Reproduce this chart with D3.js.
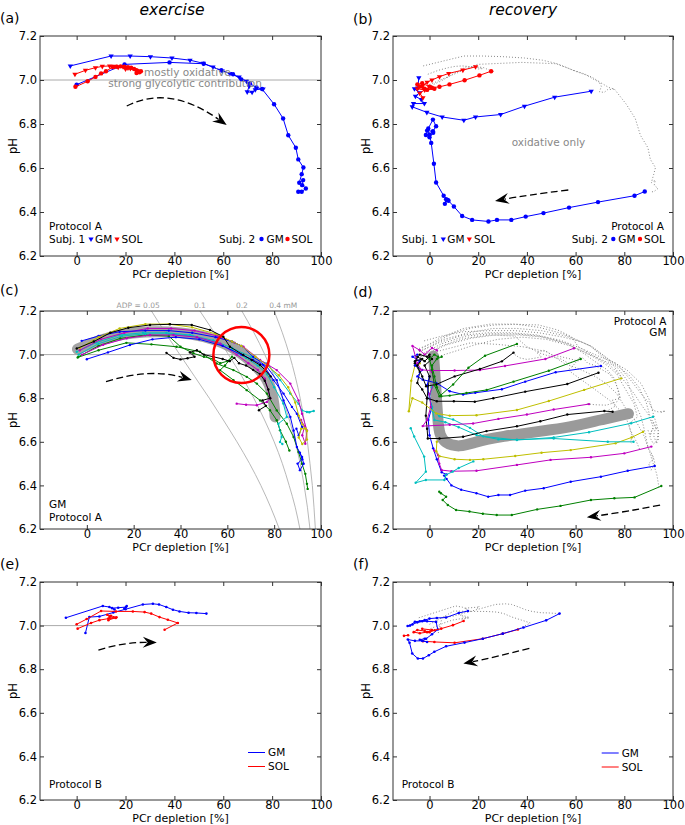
<!DOCTYPE html>
<html><head><meta charset="utf-8">
<script src="https://cdn.jsdelivr.net/npm/d3@7"></script>
<style>body{margin:0;background:#fff}text{font-family:"DejaVu Sans",sans-serif}</style>
</head><body><svg id="chart" width="685" height="825"></svg>
<script>
// ---------------- DATA ----------------
const xTicks = [0, 20, 40, 60, 80, 100];
const yTicks = [6.2, 6.4, 6.6, 6.8, 7.0, 7.2];
const yDomain = [6.2, 7.2];
const refPH = 7.0;

// (a) exercise, protocol A
const aGM1 = [[-2.6,7.064],[14.1,7.109],[21.9,7.109],[30.2,7.106],[39.0,7.100],[46.4,7.090],[51.8,7.076],[55.8,7.059],[59.6,7.041],[62.7,7.029],[66.5,7.014],[69.5,6.994],[70.6,6.972],[69.8,6.946],[71.8,6.944],[73.1,6.956],[76.3,6.959]];
const aSOL1 = [[-0.7,7.026],[3.6,7.044],[7.7,7.056],[10.5,7.062],[13.5,7.064],[15.5,7.062],[17,7.058],[19,7.06],[21,7.055],[20,7.05],[22,7.052]];
const aGM2 = [[0,6.979],[19.6,7.071],[38.0,7.080],[52.0,7.074],[59.2,7.044],[64,7.026],[67.4,7.003],[70.9,6.984],[73.6,6.966],[75.9,6.959],[80.8,6.890],[84.5,6.825],[86.6,6.749],[89.7,6.692],[90.7,6.639],[92.8,6.602],[92.1,6.572],[91.1,6.533],[92.7,6.545],[92.3,6.522],[93.8,6.507],[92.1,6.492],[90.7,6.492]];
const aSOL2 = [[-0.5,6.969],[4.5,6.994],[7.7,7.014],[10,7.03],[12,7.04],[14.8,7.059],[16.5,7.06],[18,7.062],[19.5,7.06],[21,7.058],[22.3,7.056],[23.5,7.05],[24.5,7.045],[25.2,7.04],[24.5,7.032],[25.7,7.035],[26.3,7.04]];

// (b) recovery, protocol A
const bGM1 = [[66.4,6.949],[51.4,6.922],[39,6.881],[29.2,6.843],[18.9,6.832],[14.1,6.817],[5.2,6.832],[-1.1,6.853],[-7.1,6.878],[-6.6,6.893],[-2.1,6.893],[-3.4,6.911],[-5.8,6.926],[-4.1,6.942],[-6.2,6.96],[-4.8,6.964],[-4.4,7.01]];
const bGM2 = [[88.4,6.493],[84.2,6.474],[69.2,6.445],[57.3,6.42],[46.8,6.395],[39.5,6.379],[33.6,6.364],[27.7,6.364],[24.2,6.357],[17.5,6.364],[13.4,6.382],[10,6.425],[7.8,6.451],[6.8,6.458],[6.3,6.437],[7.5,6.455],[5.8,6.474],[2.7,6.534],[1.8,6.619],[0.7,6.714],[0,6.752],[-1,6.77],[1.4,6.767],[2.7,6.79],[1.4,6.82],[-0.5,6.78],[-1.5,6.75],[0,6.74],[1.5,6.76]];
const bSOL1 = [[18.9,7.06],[13.7,7.045],[7.9,7.03],[4.1,7.015],[1,7.0],[-1,6.99],[-3,6.97],[-5,6.96],[-2,6.955],[-4,6.94],[-2.7,6.919]];
const bSOL2 = [[25.3,7.04],[20.5,7.021],[14.4,6.999],[8.2,6.98],[4.1,6.969],[1,6.965],[-2,6.96],[-4,6.97],[-5,6.98],[-3,6.985],[0,6.97],[2,6.96],[-1,6.955]];

// (c) exercise, GM, protocol A
const cGreen1 = [[-3.9,6.987],[5,7.02],[16.9,7.054],[27.6,7.047],[38.3,7.036],[48.3,7.013],[55.4,6.959],[62.6,6.929],[68.3,6.898],[72.6,6.867],[76.9,6.821],[81.1,6.744],[85.4,6.683],[88.3,6.622],[90.4,6.553],[91.9,6.499],[93.3,6.453],[94,6.407],[94.3,6.384]];
const cGreen2 = [[-3.6,6.99],[5,7.04],[14.2,7.074],[25,7.09],[35,7.085],[40,7.036],[45.5,7.006],[50,6.99],[54,6.98],[57,6.96],[60,6.97],[62,6.99],[59,6.95],[56.9,6.929],[62.6,6.883],[68.3,6.837],[74,6.79],[78.2,6.745],[81.1,6.699],[82.5,6.653],[85,6.6],[86.5,6.56]];
const cCyan1 = [[-4.3,7.013],[4,7.055],[14,7.09],[24,7.1],[34,7.1],[44,7.09],[54,7.065],[62,7.03],[70,6.99],[76.9,6.959],[82.6,6.883],[86.9,6.821],[90.4,6.775],[91.9,6.744],[94,6.737],[96.9,6.741],[95,6.735]];
const cCyan2 = [[-3.5,7.0],[5,7.05],[15,7.085],[25,7.095],[35,7.095],[45,7.085],[55,7.055],[62,7.02],[68,6.985],[73,6.95],[77,6.91],[80,6.85],[83.9,6.776],[85.4,6.714],[81.8,6.683],[83.2,6.622],[82.5,6.599],[83.5,6.59]];
const cMagenta1 = [[-3,7.02],[6,7.07],[16,7.1],[26,7.12],[36,7.12],[46,7.11],[56,7.085],[63,7.055],[66.9,7.036],[74,6.975],[81.1,6.929],[86.9,6.867],[90.4,6.79],[91.9,6.729],[94,6.652],[93.3,6.591],[92,6.63],[93,6.67],[91.5,6.7]];
const cMagenta2 = [[-2,7.0],[7,7.045],[17,7.075],[27,7.09],[37,7.09],[47,7.08],[57,7.05],[64,7.0],[69,6.96],[73,6.93],[76,6.89],[78.3,6.8],[76.9,6.783],[72.6,6.768],[68,6.77],[64,6.775]];
const cBlue1 = [[-2.2,7.063],[5,7.085],[14,7.105],[25,7.11],[35,7.11],[45,7.1],[55,7.08],[62,7.06],[66,7.04],[71.1,6.99],[76.9,6.944],[81.1,6.883],[84,6.79],[86.9,6.714],[88.3,6.652],[89.7,6.576],[91.9,6.53],[92.6,6.499],[91,6.47],[90,6.5],[92,6.52],[91,6.55]];
const cBlue2 = [[0,6.979],[9,7.01],[18.4,7.044],[28,7.07],[38,7.08],[48,7.07],[58,7.04],[66,7.0],[71,6.975],[75.4,6.952],[79.7,6.883],[84,6.821],[87.6,6.76],[89.7,6.729],[91.9,6.668],[90.5,6.63],[89.5,6.66]];
const cYellow = [[-3,7.03],[5,7.08],[14,7.12],[25,7.14],[35,7.14],[45,7.125],[55,7.095],[62,7.06],[66,7.04],[72,6.99],[77,6.95],[82,6.905],[86,6.85],[89,6.78],[90.5,6.72],[92,6.68],[94,6.65],[94,6.61],[92,6.59],[90.5,6.62],[91.5,6.66],[93.5,6.66]];
const cBlack1 = [[-4.3,7.028],[3,7.06],[10,7.1],[17.7,7.123],[27,7.136],[35.5,7.139],[44.8,7.136],[52.6,7.113],[58.3,7.082],[61.1,7.036],[66.8,6.998],[70.4,6.975],[74,6.952],[76.1,6.929],[78.5,6.9]];
const cBlack2 = [[34,7.008],[37,6.985],[40,6.978],[43,6.983],[46,6.99],[44,7.01],[47,7.02],[50,7.0],[54,6.99],[58,6.98],[61,6.97],[63,6.985],[65,6.96],[68,6.95],[71,6.93],[74,6.91],[76,6.88],[77.5,6.84],[78.3,6.8],[75,6.79],[76.5,6.765],[73.5,6.745]];
const cMean = [[-4,7.025],[5,7.065],[15,7.095],[25,7.105],[35,7.105],[45,7.095],[55,7.07],[62,7.035],[68,6.99],[73,6.94],[77,6.89],[79,6.83],[80,6.77],[80.4,6.714]];
const adp005 = [[27.6,7.2],[33.5,7.1],[39.7,7.0],[46,6.9],[52.3,6.8],[58.3,6.7],[64.1,6.6],[69.5,6.5],[74.3,6.4],[78.5,6.3],[82.2,6.2]];
const adp01 = [[48.3,7.2],[54.5,7.1],[60.5,7.0],[66.2,6.9],[71.3,6.8],[75.9,6.7],[80,6.6],[83.5,6.5],[86.4,6.4],[89,6.3],[91,6.2]];
const adp02 = [[66.2,7.2],[71.4,7.1],[76,7.0],[80,6.9],[83.5,6.8],[86.5,6.7],[89,6.6],[91.1,6.5],[92.8,6.4],[94.2,6.3],[95.3,6.2]];
const adp04 = [[80,7.2],[83.5,7.1],[86.5,7.0],[89,6.9],[91.1,6.8],[92.8,6.7],[94.2,6.6],[95.3,6.5],[96.3,6.4],[97,6.3],[97.6,6.2]];
const adpLabels = ["0.05", "0.1", "0.2", "0.4 mM"];

// (d) recovery, GM, protocol A
const dGreenA = [[35.9,7.049],[22.8,6.995],[16,6.94],[9.7,6.863],[4.1,6.809],[2,6.86],[1,6.93],[0,6.98],[2,7.0],[3.5,6.99]];
const dBlackA = [[34.5,7.009],[29.7,6.969],[20.7,6.934],[10.3,6.9],[2.8,6.863],[-1.4,6.855],[-3,6.9],[-5,6.95],[-3,6.98],[-6,6.97],[-4,7.0],[-1,6.99],[0,7.0]];
const dMagentaA = [[59.3,7.029],[47.6,6.98],[31,6.948],[20.7,6.929],[10.3,6.927],[0.7,6.927],[-3.4,6.93],[-5,6.96],[-7,7.04],[-4,7.02],[-2,7.0],[1,7.03],[3,7.02]];
const dGreenB = [[62.1,6.98],[49,6.926],[34.5,6.876],[23.5,6.838],[15.2,6.824],[8.3,6.812],[4.8,6.809],[3,6.85],[2,6.9],[1,6.95],[3,6.98],[5,6.99]];
const dBlueA = [[70.4,6.948],[51.8,6.919],[39.3,6.876],[29.7,6.841],[18.8,6.825],[13.8,6.817],[8.3,6.832],[2.8,6.87],[-2.8,6.885],[-5,6.9],[-3,6.93],[-6,6.95],[-4,6.97],[-7,6.99],[-5,7.0]];
const dBlackB = [[69.4,6.917],[56.6,6.865],[39.3,6.83],[26.2,6.8],[18.6,6.784],[10,6.786],[3,6.786],[-1,6.8],[-3,6.84],[-5,6.87],[-4,6.92],[-6,6.96],[-5,6.99],[-2,6.97],[0,6.99]];
const dYellowA = [[78.7,6.891],[63.5,6.838],[49,6.787],[35.9,6.746],[19.3,6.722],[8.3,6.72],[2.8,6.73],[-3,6.78],[-7,6.8],[-8.5,6.74],[-7.5,6.88],[-6,6.95],[-4,6.96]];
const dMagentaB = [[65.5,6.773],[51,6.748],[40,6.725],[28.3,6.705],[17.9,6.684],[8.3,6.678],[-2.8,6.672],[-1,6.7],[0.5,6.76],[0,6.82],[2,6.87],[1,6.92]];
const dBlackC = [[75.2,6.738],[71.8,6.741],[56.6,6.725],[45.5,6.694],[35.9,6.671],[23.4,6.649],[13.8,6.623],[4.1,6.615],[-0.7,6.615],[-1,6.66],[-1.5,6.72],[-1,6.8],[0,6.9],[-2,6.95],[1,6.98]];
const dCyanA = [[91.8,6.715],[82.8,6.685],[65.5,6.644],[51,6.62],[35.9,6.608],[22.1,6.625],[16.6,6.664],[9.7,6.702],[4.1,6.717],[1.4,6.74],[0,6.8],[1,6.85]];
const dCyanB = [[83.8,6.6],[73.2,6.6],[51,6.615],[35.9,6.61],[28.3,6.611],[19.3,6.631],[12,6.667],[6.5,6.69],[2,6.7],[1,6.76]];
const dYellowB = [[87.7,6.646],[83,6.62],[76.4,6.593],[58,6.562],[46,6.55],[35.2,6.535],[22.1,6.52],[16.6,6.517],[10.3,6.52],[4.1,6.534],[2.8,6.557],[3,6.6]];
const dMagentaC = [[91.1,6.578],[80,6.547],[66.3,6.529],[49.7,6.517],[35.9,6.494],[19.3,6.467],[9,6.465],[5,6.47],[4,6.5],[3.5,6.54],[2,6.56]];
const dBlueB = [[92.5,6.489],[81.4,6.467],[70.4,6.44],[58,6.417],[46.9,6.387],[39.3,6.376],[33.1,6.356],[28.3,6.356],[24.1,6.348],[19.3,6.364],[13,6.38],[9,6.4],[7,6.43],[6,6.445],[7,6.45],[5,6.46],[3,6.52],[1.5,6.57],[0,6.63],[-0.5,6.7],[1,6.76],[0,6.8],[-1,6.86],[0,6.9]];
const dGreenC = [[95.2,6.397],[84.2,6.345],[75.9,6.341],[66.3,6.333],[53.8,6.306],[44.2,6.29],[33.8,6.264],[27.6,6.264],[21.9,6.27],[16.4,6.28],[10.9,6.287],[7.5,6.31],[5.4,6.333],[6.8,6.348],[4.7,6.364],[4,6.371]];
const dCyanC = [[18,6.51],[12,6.48],[9.5,6.463],[6.7,6.448],[6.1,6.425],[-1.5,6.425],[-5.7,6.412],[-1.5,6.463],[-2.2,6.532],[-6.3,6.624],[-7.7,6.662]];
const dMean = [[81.7,6.729],[70,6.7],[59.3,6.671],[50,6.655],[40,6.64],[30,6.625],[23.4,6.611],[18,6.595],[15.2,6.587],[12.4,6.579],[9,6.585],[6.9,6.594],[4.1,6.625],[3.4,6.702],[2.8,6.808],[2.1,6.93],[1.7,6.992]];

// (e) exercise, protocol B
const eGM1 = [[-4.4,7.036],[10.7,7.09],[13.4,7.085],[15.5,7.074],[14.5,7.08],[17,7.082],[20.2,7.085],[19.5,7.078],[20.5,7.09]];
const eGM2 = [[3.6,6.966],[5.2,7.039],[9.3,7.042],[15,7.06],[20,7.075],[27.1,7.097],[31.2,7.1],[33.7,7.097],[36.7,7.085],[39.4,7.073],[42.1,7.065],[45.8,7.059],[49,7.058],[53.1,7.055]];
const eSOL1 = [[0.4,6.986],[5.9,7.012],[9.3,7.025],[13,7.032],[16,7.035],[13.5,7.04],[12.5,7.05],[14,7.045],[16.3,7.038],[13,7.025]];
const eSOL2 = [[0,7.006],[4.1,7.03],[10,7.067],[16.1,7.065],[23,7.065],[27.8,7.062],[30.5,7.055],[33.9,7.039],[37.3,7.027],[41.4,7.012],[36,6.981]];

// (f) recovery, protocol B
const fGM1 = [[15.8,7.067],[12,7.058],[6.8,7.037],[3,7.035],[0,7.032],[-2,7.025],[-4,7.02],[-6,7.018],[-8,7.0],[-9,6.998],[-7,7.005],[-5,7.015],[-3,7.02],[-1,7.02],[2.7,7.017],[3.4,6.982],[1,6.96],[-1.4,6.94]];
const fGM2 = [[53.4,7.055],[47.9,7.024],[38.6,6.991],[30.1,6.963],[21.9,6.94],[14.4,6.922],[6.8,6.905],[2,6.88],[-0.3,6.864],[-2.7,6.849],[-4.8,6.849],[-7.1,6.872],[-8.2,6.921],[-8.9,6.936],[-6,6.93],[-3,6.93],[-1,6.925],[-4,6.935],[-2,6.94]];
const fSOL1 = [[14,7.021],[9.6,7.002],[4.8,6.986],[2.1,6.979],[0,6.97],[-2,6.975],[-5,6.98],[-6.5,6.97],[-4,6.965],[-1,6.97],[1,6.98],[-3,6.985]];
const fSOL2 = [[36.3,6.982],[30.1,6.963],[21.9,6.94],[10.3,6.921],[2,6.925],[-2.7,6.928]];
const fSOL3 = [[-10.5,6.953],[-8.8,6.956]];

// annotation arrows: start, control, end (data coords)
const arrowA = [[20.5,6.882],[37.8,6.98],[61.4,6.795]];
const arrowB = [[57.0,6.5],[40.0,6.477],[26.9,6.45]];
const arrowC = [[8.2,6.876],[27.0,6.939],[44.8,6.883]];
const arrowD = [[94.7,6.31],[80.3,6.278],[64.6,6.254]];
const arrowE = [[8.9,6.888],[19.8,6.925],[32.8,6.922]];
const arrowF = [[41.0,6.896],[26.9,6.855],[13.9,6.826]];

// ---------------- DRAWING ----------------
const C = {b:'#0000ff', g:'#008000', r:'#ff0000', c:'#00bfbf', m:'#bf00bf', y:'#bfbf00', k:'#000000'};
const svg = d3.select('#chart');
const defs = svg.append('defs');
const FRAME = '#333';

const layout = {
  a:{left:40, right:321, top:36, bottom:256, xdom:[-15,100]},
  b:{left:393, right:673, top:36, bottom:256, xdom:[-15,100]},
  c:{left:40, right:321, top:311, bottom:529, xdom:[-20,100]},
  d:{left:393, right:673, top:311, bottom:529, xdom:[-15,100]},
  e:{left:40, right:321, top:582, bottom:800, xdom:[-15,100]},
  f:{left:393, right:673, top:582, bottom:800, xdom:[-15,100]}
};

function makePanel(key) {
  const cfg = layout[key];
  const x = d3.scaleLinear().domain(cfg.xdom).range([cfg.left, cfg.right]);
  const y = d3.scaleLinear().domain(yDomain).range([cfg.bottom, cfg.top]);
  defs.append('clipPath').attr('id', 'clip-' + key).append('rect')
    .attr('x', cfg.left).attr('y', cfg.top)
    .attr('width', cfg.right - cfg.left).attr('height', cfg.bottom - cfg.top);
  const root = svg.append('g');
  const plot = root.append('g').attr('clip-path', `url(#clip-${key})`);
  return {key, cfg, x, y, root, plot};
}

function lineGen(p, curve) {
  const l = d3.line().x(d => p.x(d[0])).y(d => p.y(d[1]));
  if (curve) l.curve(curve);
  return l;
}

function series(p, data, o) {
  const path = p.plot.append('path').datum(data)
    .attr('d', lineGen(p, o.curve))
    .attr('fill', 'none').attr('stroke', o.color)
    .attr('stroke-width', o.width || 1)
    .attr('stroke-linejoin', 'round').attr('stroke-linecap', o.cap || 'butt');
  if (o.dash) path.attr('stroke-dasharray', o.dash);
  if (o.opacity) path.attr('stroke-opacity', o.opacity);
  if (o.marker === 'circle') {
    p.plot.append('g').selectAll('circle').data(data).join('circle')
      .attr('cx', d => p.x(d[0])).attr('cy', d => p.y(d[1]))
      .attr('r', o.r || 1.3).attr('fill', o.color);
  } else if (o.marker === 'tri') {
    const sym = d3.symbol().type(d3.symbolTriangle).size(o.size || 12);
    p.plot.append('g').selectAll('path').data(data).join('path')
      .attr('d', sym)
      .attr('transform', d => `translate(${p.x(d[0])},${p.y(d[1])}) rotate(180)`)
      .attr('fill', o.color);
  }
}

function refLine(p) {
  p.plot.append('line')
    .attr('x1', p.cfg.left).attr('x2', p.cfg.right)
    .attr('y1', p.y(refPH)).attr('y2', p.y(refPH))
    .attr('stroke', '#aaa').attr('stroke-width', 1);
}

function arrow(p, pts) {
  const [s, c, e] = pts.map(d => [p.x(d[0]), p.y(d[1])]);
  const ang = Math.atan2(e[1] - c[1], e[0] - c[0]);
  const L = 14, W = 5.5;
  const bx = e[0] - Math.cos(ang) * L * 0.7, by = e[1] - Math.sin(ang) * L * 0.7;
  p.root.append('path')
    .attr('d', `M${s[0]},${s[1]}Q${c[0]},${c[1]} ${bx},${by}`)
    .attr('fill', 'none').attr('stroke', '#000').attr('stroke-width', 1.3)
    .attr('stroke-dasharray', '7,3.5');
  p.root.append('path')
    .attr('d', `M0,0L${-L},${-W}L${-L * 0.65},0L${-L},${W}Z`)
    .attr('transform', `translate(${e[0]},${e[1]}) rotate(${ang * 180 / Math.PI})`)
    .attr('fill', '#000');
}

function axes(p) {
  const {cfg, x, y, root} = p;
  const gB = root.append('g').attr('transform', `translate(0,${cfg.bottom})`)
    .call(d3.axisBottom(x).tickValues(xTicks).tickSizeInner(-4).tickSizeOuter(0).tickPadding(1).tickFormat(d3.format('d')));
  const gT = root.append('g').attr('transform', `translate(0,${cfg.top})`)
    .call(d3.axisTop(x).tickValues(xTicks).tickSizeInner(-4).tickSizeOuter(0).tickFormat(''));
  const gL = root.append('g').attr('transform', `translate(${cfg.left},0)`)
    .call(d3.axisLeft(y).tickValues(yTicks).tickSizeInner(-4).tickSizeOuter(0).tickPadding(3).tickFormat(d3.format('.1f')));
  const gR = root.append('g').attr('transform', `translate(${cfg.right},0)`)
    .call(d3.axisRight(y).tickValues(yTicks).tickSizeInner(-4).tickSizeOuter(0).tickFormat(''));
  [gB, gT, gL, gR].forEach(g => {
    g.select('.domain').remove();
    g.selectAll('line').attr('stroke', FRAME);
    g.selectAll('text').attr('font-size', '11.5px').attr('fill', '#000')
      .attr('font-family', '"DejaVu Sans", sans-serif');
  });
  root.append('rect').attr('x', cfg.left).attr('y', cfg.top)
    .attr('width', cfg.right - cfg.left).attr('height', cfg.bottom - cfg.top)
    .attr('fill', 'none').attr('stroke', FRAME).attr('stroke-width', 1);
  root.append('text').attr('x', (cfg.left + cfg.right) / 2).attr('y', cfg.bottom + 22)
    .attr('text-anchor', 'middle').attr('font-size', '11px').text('PCr depletion [%]');
  root.append('text').attr('transform', `translate(${cfg.left - 23},${(cfg.top + cfg.bottom) / 2}) rotate(-90)`)
    .attr('text-anchor', 'middle').attr('font-size', '11.5px').text('pH');
}

function label(p, txt, x, y, o = {}) {
  return p.root.append('text').attr('x', x).attr('y', y)
    .attr('font-size', o.size || '10.5px').attr('fill', o.fill || '#000')
    .attr('text-anchor', o.anchor || 'start').text(txt);
}

function legendMarker(p, type, color, x, y) {
  if (type === 'circle') {
    p.root.append('circle').attr('cx', x).attr('cy', y).attr('r', 2.2).attr('fill', color);
  } else {
    p.root.append('path').attr('d', d3.symbol().type(d3.symbolTriangle).size(12))
      .attr('transform', `translate(${x},${y}) rotate(180)`).attr('fill', color);
  }
}

// ----- titles and panel letters -----
svg.append('text').attr('x', 172).attr('y', 14.5).attr('text-anchor', 'middle')
  .attr('font-size', '15.5px').attr('font-style', 'italic').text('exercise');
svg.append('text').attr('x', 523).attr('y', 14.5).attr('text-anchor', 'middle')
  .attr('font-size', '15.5px').attr('font-style', 'italic').text('recovery');
const letters = [['(a)', 0, 23], ['(b)', 353, 24], ['(c)', 0, 295], ['(d)', 353, 297], ['(e)', 0, 569], ['(f)', 353, 569]];
letters.forEach(([t, x, y]) => svg.append('text').attr('x', x).attr('y', y).attr('font-size', '14px').text(t));

// ----- (a) -----
{
  const p = makePanel('a');
  refLine(p);
  series(p, aGM1, {color: C.b, marker: 'tri', size: 12});
  series(p, aGM2, {color: C.b, marker: 'circle', r: 2.2});
  series(p, aSOL1, {color: C.r, marker: 'tri', size: 12});
  series(p, aSOL2, {color: C.r, marker: 'circle', r: 2.2});
  p.root.append('text').attr('x', p.x(27.6)).attr('y', p.y(7.016)).attr('font-size', '10.5px').attr('fill', '#888').text('mostly oxidative');
  p.root.append('text').attr('x', p.x(12.95)).attr('y', p.y(6.967)).attr('font-size', '10.5px').attr('fill', '#888').text('strong glycolytic contribution');
  arrow(p, arrowA);
  axes(p);
  const L = p.cfg.left, B = p.cfg.bottom;
  label(p, 'Protocol A', L + 9, B - 26);
  label(p, 'Subj. 1', L + 9, B - 13.5);
  legendMarker(p, 'tri', C.b, L + 51, B - 17);
  label(p, 'GM', L + 55, B - 13.5);
  legendMarker(p, 'tri', C.r, L + 77, B - 17);
  label(p, 'SOL', L + 81.5, B - 13.5);
  label(p, 'Subj. 2', L + 179, B - 13.5);
  legendMarker(p, 'circle', C.b, L + 221.5, B - 17);
  label(p, 'GM', L + 226.5, B - 13.5);
  legendMarker(p, 'circle', C.r, L + 247.5, B - 17);
  label(p, 'SOL', L + 251.5, B - 13.5);
}

// ----- (b) -----
{
  const p = makePanel('b');
  [aGM1, aGM2, aSOL1, aSOL2].forEach(d => series(p, d, {color: '#888', dash: '1,2'}));
  series(p, bGM1, {color: C.b, marker: 'tri', size: 12});
  series(p, bGM2, {color: C.b, marker: 'circle', r: 2.2});
  series(p, bSOL1, {color: C.r, marker: 'tri', size: 12});
  series(p, bSOL2, {color: C.r, marker: 'circle', r: 2.2});
  p.root.append('text').attr('x', p.x(33.75)).attr('y', p.y(6.7)).attr('font-size', '10.5px').attr('fill', '#888').text('oxidative only');
  arrow(p, arrowB);
  axes(p);
  const L = p.cfg.left, R = p.cfg.right, B = p.cfg.bottom;
  label(p, 'Protocol A', R - 9, B - 26, {anchor: 'end'});
  label(p, 'Subj. 1', L + 8.7, B - 13.5);
  legendMarker(p, 'tri', C.b, L + 50.3, B - 17);
  label(p, 'GM', L + 54.3, B - 13.5);
  legendMarker(p, 'tri', C.r, L + 76.3, B - 17);
  label(p, 'SOL', L + 81, B - 13.5);
  label(p, 'Subj. 2', L + 178.7, B - 13.5);
  legendMarker(p, 'circle', C.b, L + 220.3, B - 17);
  label(p, 'GM', L + 225.3, B - 13.5);
  legendMarker(p, 'circle', C.r, L + 247, B - 17);
  label(p, 'SOL', L + 251, B - 13.5);
}

// ----- (c) -----
const cSeries = [
  [cGreen1, 'g'], [cGreen2, 'g'], [cCyan1, 'c'], [cCyan2, 'c'], [cMagenta1, 'm'], [cMagenta2, 'm'],
  [cBlue1, 'b'], [cBlue2, 'b'], [cYellow, 'y'], [cBlack1, 'k'], [cBlack2, 'k']
];
{
  const p = makePanel('c');
  const iso = [adp005, adp01, adp02, adp04];
  iso.forEach(d => series(p, d, {color: '#b0b0b0', width: 0.9, curve: d3.curveMonotoneY}));
  refLine(p);
  series(p, cMean, {color: '#9a9a9a', width: 11, cap: 'round', curve: d3.curveBasis, opacity: 0.9});
  cSeries.forEach(([d, k]) => series(p, d, {color: C[k], marker: 'circle', r: 1.2}));
  label(p, 'ADP =', p.x(23), p.cfg.top - 3, {size: '7.5px', fill: '#999', anchor: 'end'});
  iso.forEach((d, i) => {
    const last = i === iso.length - 1;
    label(p, adpLabels[i], last ? p.x(d[0][0]) - 5 : p.x(d[0][0]), p.cfg.top - 3,
      {size: '7.5px', fill: '#999', anchor: last ? 'start' : 'middle'});
  });
  p.root.append('circle').attr('cx', p.x(66)).attr('cy', p.y(6.998)).attr('r', 28)
    .attr('fill', 'none').attr('stroke', '#f00').attr('stroke-width', 2.5);
  arrow(p, arrowC);
  axes(p);
  label(p, 'GM', p.cfg.left + 9, p.cfg.bottom - 21);
  label(p, 'Protocol A', p.cfg.left + 9, p.cfg.bottom - 8);
}

// ----- (d) -----
const dSeries = [
  [dGreenC, 'g'], [dBlueB, 'b'], [dMagentaC, 'm'], [dYellowB, 'y'], [dCyanB, 'c'], [dCyanA, 'c'], [dCyanC, 'c'],
  [dBlackC, 'k'], [dMagentaB, 'm'], [dYellowA, 'y'], [dBlackB, 'k'], [dBlueA, 'b'], [dGreenB, 'g'],
  [dMagentaA, 'm'], [dBlackA, 'k'], [dGreenA, 'g']
];
{
  const p = makePanel('d');
  cSeries.forEach(([d]) => series(p, d, {color: '#888', dash: '1,2'}));
  series(p, dMean, {color: '#9a9a9a', width: 11, cap: 'round', curve: d3.curveBasis});
  dSeries.forEach(([d, k]) => series(p, d, {color: C[k], marker: 'circle', r: 1.2}));
  arrow(p, arrowD);
  axes(p);
  label(p, 'Protocol A', p.cfg.right - 6.5, p.cfg.top + 14, {anchor: 'end'});
  label(p, 'GM', p.cfg.right - 6.5, p.cfg.top + 25, {anchor: 'end'});
}

// ----- (e) -----
function lineLegend(p, x0, yTop) {
  [['GM', C.b], ['SOL', C.r]].forEach(([t, col], i) => {
    const yy = yTop + i * 14;
    p.root.append('line').attr('x1', x0).attr('x2', x0 + 17).attr('y1', yy).attr('y2', yy)
      .attr('stroke', col).attr('stroke-width', 1);
    label(p, t, x0 + 20, yy + 3.8);
  });
}
{
  const p = makePanel('e');
  refLine(p);
  series(p, eGM1, {color: C.b, marker: 'circle', r: 1.3});
  series(p, eGM2, {color: C.b, marker: 'circle', r: 1.3});
  series(p, eSOL1, {color: C.r, marker: 'circle', r: 1.3});
  series(p, eSOL2, {color: C.r, marker: 'circle', r: 1.3});
  arrow(p, arrowE);
  axes(p);
  lineLegend(p, p.cfg.left + 208, p.cfg.bottom - 47.5);
  label(p, 'Protocol B', p.cfg.left + 9, p.cfg.bottom - 12);
}

// ----- (f) -----
{
  const p = makePanel('f');
  [eGM1, eGM2, eSOL1, eSOL2].forEach(d => series(p, d, {color: '#888', dash: '1,2'}));
  series(p, fSOL2, {color: C.r, marker: 'circle', r: 1.3});
  series(p, fGM2, {color: C.b, marker: 'circle', r: 1.3});
  series(p, fGM1, {color: C.b, marker: 'circle', r: 1.3});
  series(p, fSOL1, {color: C.r, marker: 'circle', r: 1.3});
  series(p, fSOL3, {color: C.r, marker: 'circle', r: 1.3});
  arrow(p, arrowF);
  axes(p);
  lineLegend(p, p.cfg.left + 208.7, p.cfg.bottom - 47);
  label(p, 'Protocol B', p.cfg.left + 8.7, p.cfg.bottom - 12);
}
</script>
</body></html>
